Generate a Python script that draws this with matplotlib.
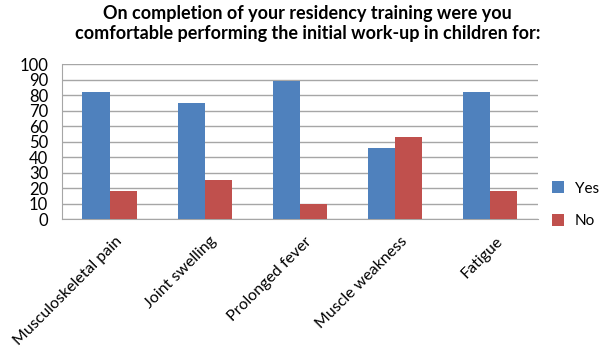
import matplotlib
matplotlib.use("Agg")
import matplotlib.pyplot as plt
import matplotlib.transforms as mtransforms
import numpy as np

categories = ["Musculoskeletal pain", "Joint swelling", "Prolonged fever", "Muscle weakness", "Fatigue"]
yes_vals = [82, 75, 89, 46, 82]
no_vals = [18, 25, 10, 53, 18]
series_names = ["Yes", "No"]
yticks = list(range(0, 101, 10))

plt.rcParams['font.family'] = ['Lato', 'DejaVu Sans']

fig = plt.figure(figsize=(6, 3.5), dpi=100)
ax = fig.add_axes([0.1033, 0.374, 0.793, 0.443])

x = np.arange(len(categories))
w = 1 / 3.5
ax.bar(x - w / 2, yes_vals, width=w, color="#4F81BD", label=series_names[0], zorder=3)
ax.bar(x + w / 2, no_vals, width=w, color="#C0504D", label=series_names[1], zorder=3)

ax.set_xlim(-0.5, len(categories) - 0.5)
ax.set_ylim(0, 100)
ax.set_yticks(yticks)
ax.set_yticklabels([str(t) for t in yticks], fontsize=12)
ax.yaxis.grid(True, color="#A6A6A6", linewidth=1, zorder=0)
ax.set_axisbelow(True)
ax.set_xticks(x)
ax.set_xticklabels(categories, rotation=45, ha="right", va="top", rotation_mode="anchor", fontsize=11.5)
ax.tick_params(axis="x", length=0, pad=11)
ax.tick_params(axis="y", length=0, pad=10)
offset = mtransforms.ScaledTranslation(5 / 100, 0, fig.dpi_scale_trans)
for lab in ax.get_xticklabels():
    lab.set_transform(lab.get_transform() + offset)
for s in ["top", "right"]:
    ax.spines[s].set_visible(False)
for s in ["left", "bottom"]:
    ax.spines[s].set_color("#A6A6A6")

fig.legend(loc="center left", bbox_to_anchor=(0.92, 0.415), frameon=False, fontsize=11,
           handlelength=0.8, handleheight=0.8, handletextpad=0.7, labelspacing=1.2,
           borderaxespad=0, borderpad=0)

fig.text(0.513, 0.985, "On completion of your residency training were you\ncomfortable performing the initial work-up in children for:",
         ha="center", va="top", fontsize=13, fontweight="bold", linespacing=1.2)

fig.savefig("out.png", dpi=100)
